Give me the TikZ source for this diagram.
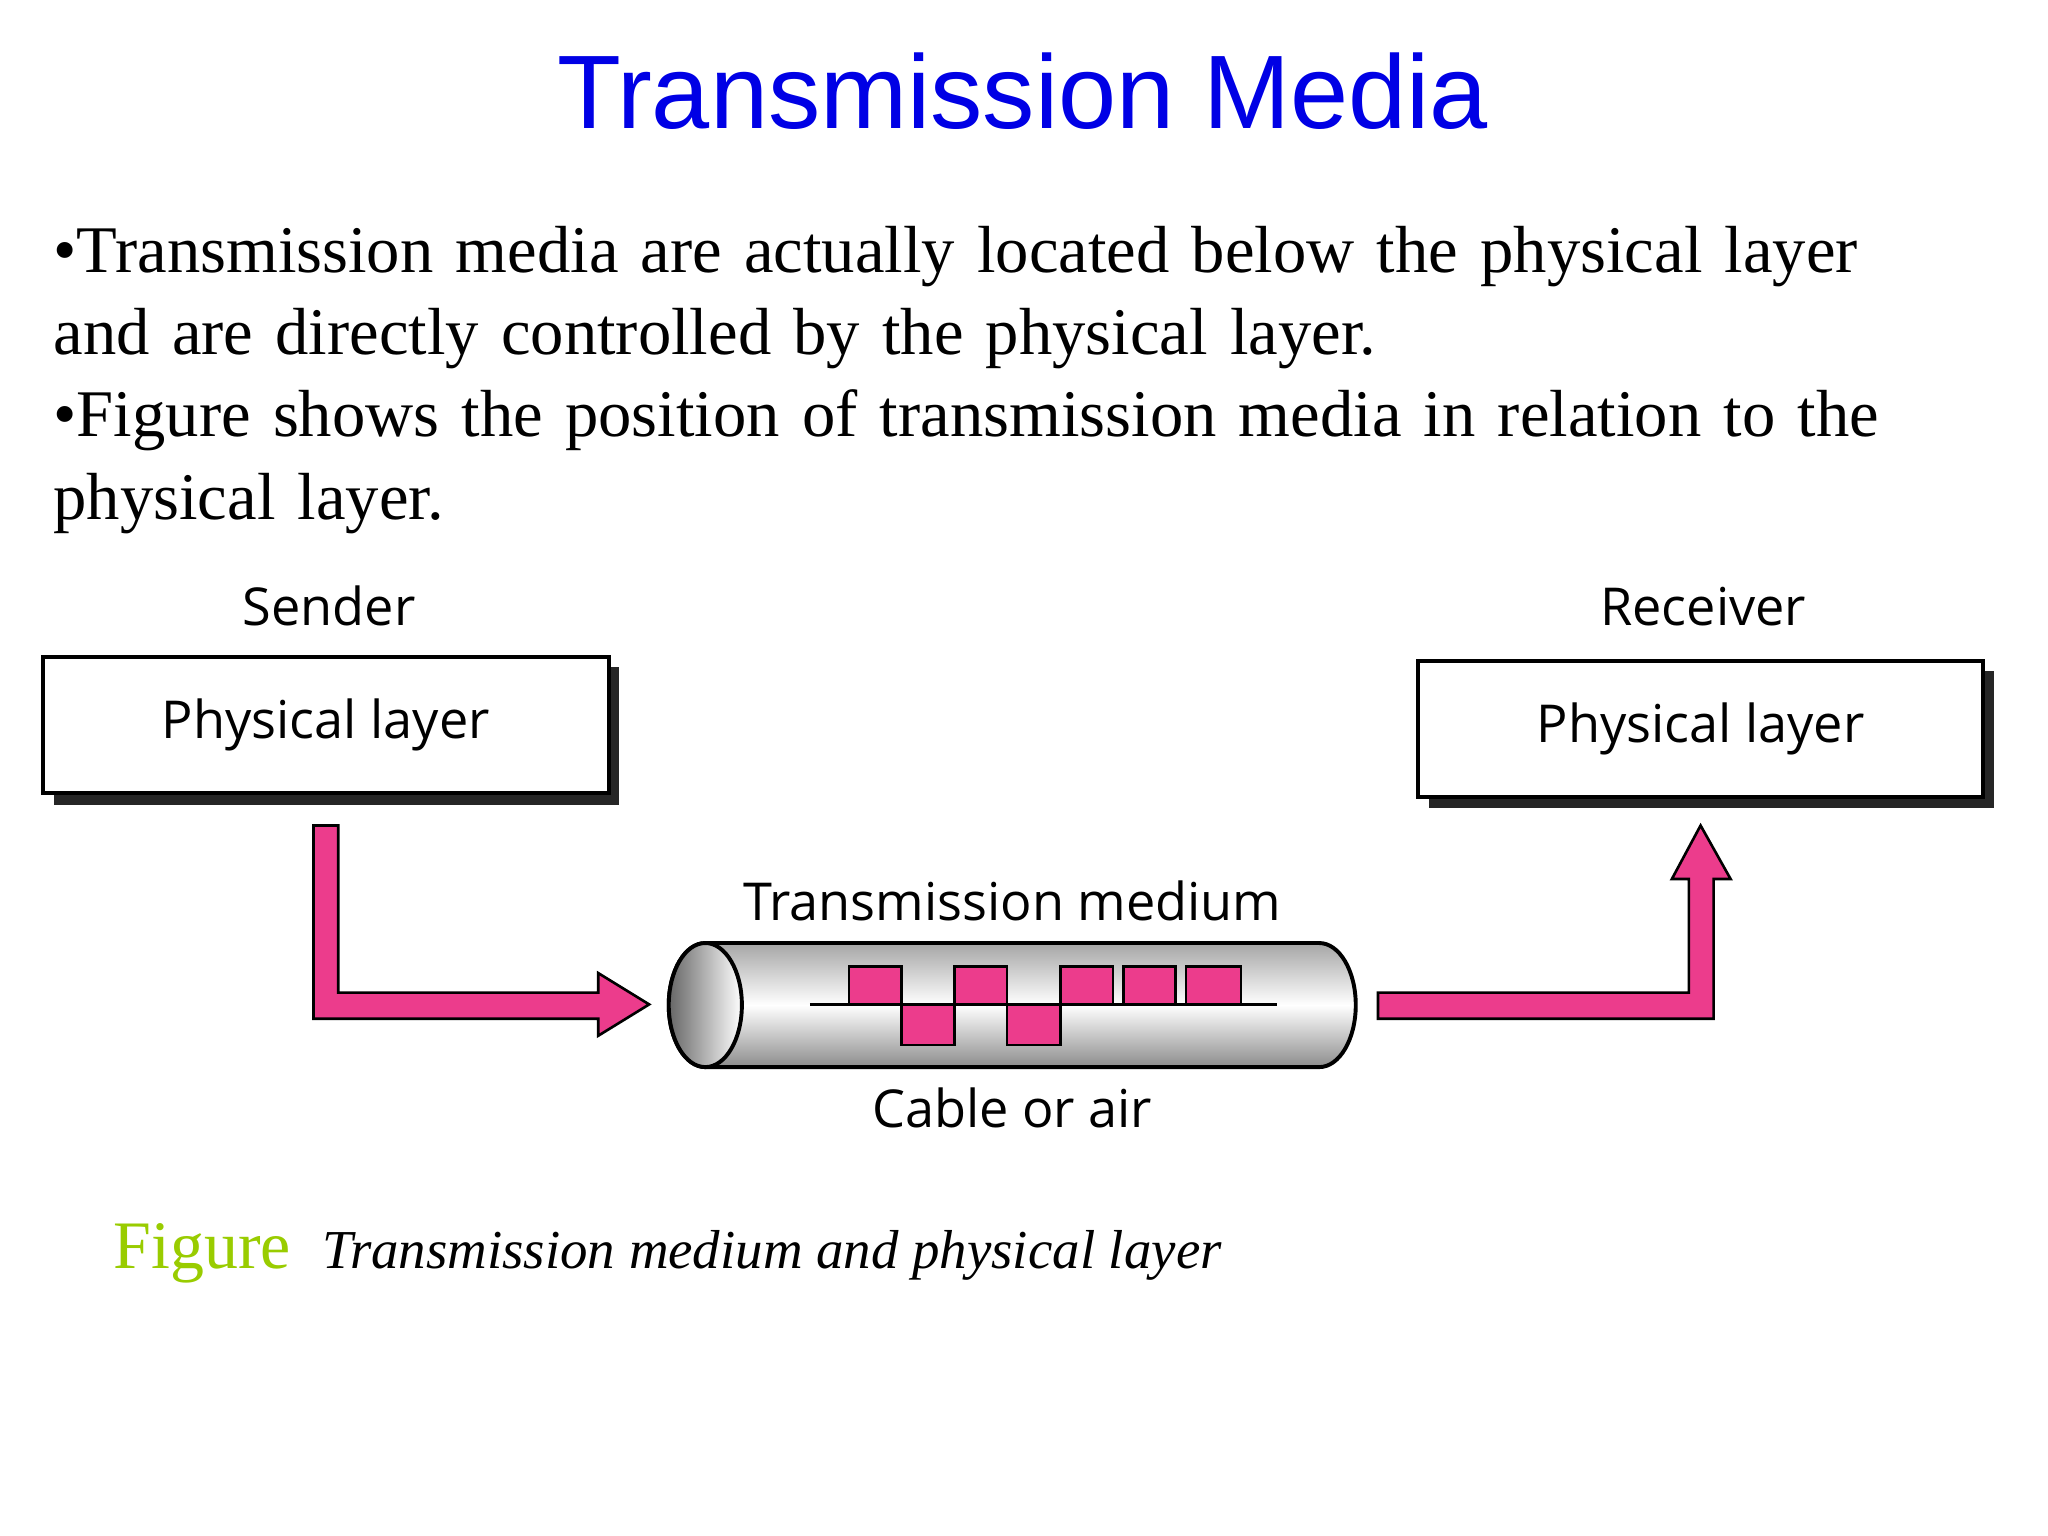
\documentclass[tikz,border=0pt]{standalone}
\usepackage{fontspec}
\setmainfont{Liberation Serif}
\newfontfamily\labfont{Open Sans}
\newfontfamily\titfont{Liberation Sans}
\definecolor{pinkm}{HTML}{EC3C8C}
\definecolor{figgreen}{HTML}{99CC00}
\begin{document}
\begin{tikzpicture}[x=0.5pt,y=-0.5pt,
  box/.style={draw=black,line width=1.5pt,fill=white,minimum width=216.5pt,minimum height=52pt,font=\labfont\fontsize{20}{24}\selectfont},
  lab/.style={font=\labfont\fontsize{20}{24}\selectfont},
  arr/.style={fill=pinkm,draw=black,line width=1pt,line join=miter},
  pulse/.style={fill=pinkm,draw=black,line width=1pt}]
\useasboundingbox (0,0) rectangle (1568,1176);
\fill[white] (0,0) rectangle (1568,1176);
\node[font=\titfont\fontsize{40}{48}\selectfont,text=blue!90!black] (title) at (783,70) {Transmission Media};
\node[anchor=north west,align=left,text width=720pt,font=\fontsize{25.5}{31.5}\selectfont] (body) at (34,166)
 {•Transmission media are actually located below the physical layer\\and are directly controlled by the physical layer.\\
 •Figure shows the position of transmission media in relation to the\\physical layer.};
% boxes with shadows
\fill[black!85] (41,511) rectangle (474,616);
\node[box] (pl1) at (249.5,555) {Physical layer};
\fill[black!85] (1094,514) rectangle (1527,619);
\node[box] (pl2) at (1302,558) {Physical layer};
\node[lab,anchor=south] (snd) at (252,486) {Sender};
\node[lab,anchor=south] (rcv) at (1304,486) {Receiver};
% arrows
\draw[arr] (240,632) -- (259,632) -- (259,760) -- (458,760) -- (458,745) -- (497,769) -- (458,793) -- (458,780) -- (240,780) -- cycle;
\draw[arr] (1055,760) -- (1293,760) -- (1293,673) -- (1280,673) -- (1302,632) -- (1325,673) -- (1312,673) -- (1312,780) -- (1055,780) -- cycle;
% cylinder
\shade[top color=black!35,bottom color=black!45,middle color=white,draw=black,line width=1.5pt]
 (540,722) -- (1010,722) arc[start angle=270,end angle=450,x radius=28,y radius=47.5] -- (540,817) arc[start angle=90,end angle=270,x radius=28,y radius=47.5] -- cycle;
\shade[left color=black!60,right color=white,draw=black,line width=1.5pt] (540,769.5) ellipse[x radius=28,y radius=47.5];
\coordinate (cyl) at (775,769.5);
% signal
\draw[black,line width=1.2pt] (620,769) -- (978,769);
\foreach \a/\b in {650/690,731/771,812/852,860/900,908/950} \draw[pulse] (\a,740) rectangle (\b,769);
\foreach \a/\b in {690/731,771/812} \draw[pulse] (\a,769) rectangle (\b,800);
\node[lab,anchor=south] (tm) at (775,712) {Transmission medium};
\node[lab,anchor=north] (ca) at (775,826) {Cable or air};
\node[anchor=base west,font=\fontsize{26}{30}\selectfont,text=figgreen] (fig) at (80,971) {Figure};
\node[anchor=base west,font=\itshape\fontsize{21}{25}\selectfont] (cap) at (240,971) {Transmission medium and physical layer};
\end{tikzpicture}
\end{document}
